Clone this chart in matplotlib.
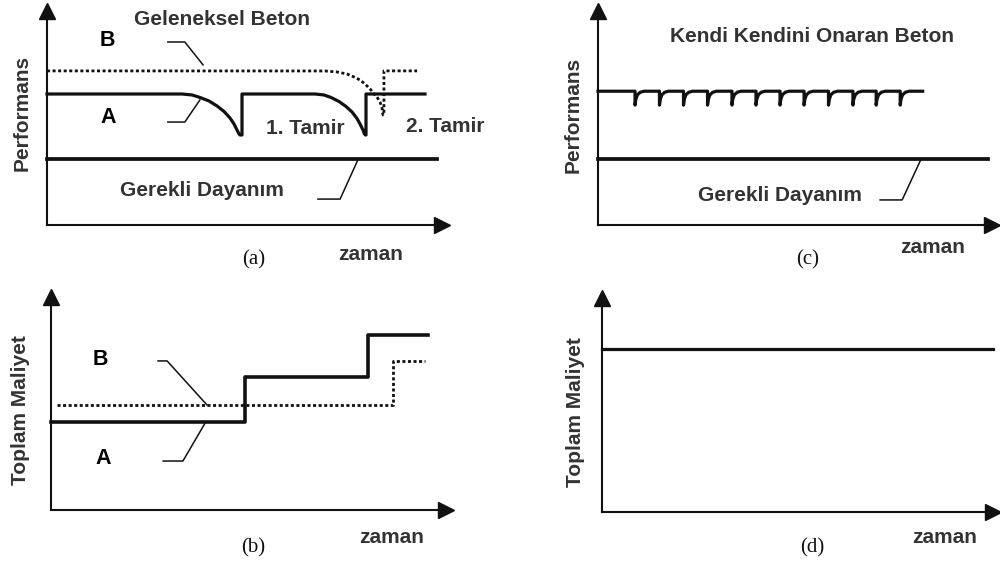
import numpy as np
import matplotlib
matplotlib.use('Agg')
import matplotlib.pyplot as plt

plt.rcParams['font.family'] = ['Liberation Sans', 'DejaVu Sans']

# (a) performance of conventional concrete: A repaired, B dotted
a_A_t = [0, 3.418, 3.671, 3.873, 4.101, 4.304, 4.481, 4.633, 4.734, 4.810, 4.861, 4.886, 4.937, 4.937,
         6.785, 7.013, 7.190, 7.392, 7.570, 7.722, 7.848, 7.924, 8.000, 8.038, 8.063, 8.076, 8.076, 9.57]
a_A_p = [6.12, 6.12, 6.075, 5.958, 5.794, 5.561, 5.304, 5.0, 4.72, 4.439, 4.252, 4.206, 4.206, 6.12,
         6.12, 6.075, 5.958, 5.771, 5.537, 5.280, 4.977, 4.72, 4.439, 4.252, 4.206, 4.206, 6.12, 6.12]
a_B_t = [0, 7.038, 7.342, 7.595, 7.772, 7.924, 8.051, 8.127, 8.203, 8.253, 8.354, 8.430, 8.481, 8.506,
         8.53, 8.53, 9.37]
a_B_p = [7.2, 7.196, 7.150, 7.056, 6.916, 6.776, 6.589, 6.449, 6.308, 6.168, 5.981, 5.748, 5.467, 5.140,
         5.14, 7.2, 7.2]
a_req_t = [0, 9.87]
a_req_p = [3.1, 3.1]

# (b) total cost
b_A_t = [0, 4.91, 4.91, 8.03, 8.03, 9.54]
b_A_c = [4.13, 4.13, 6.24, 6.24, 8.22, 8.22]
b_B_t = [0.15, 8.66, 8.66, 9.47]
b_B_c = [4.93, 4.93, 7.0, 7.0]

# (c) self-healing concrete
c_level = 6.25
c_end = 8.24
c_dips = [0.94, 1.56, 2.17, 2.78, 3.40, 4.01, 4.62, 5.23, 5.85, 6.47, 7.06, 7.67]
dip_dt = [0, 0, 0.02, 0.06, 0.13, 0.23]
dip_dp = [0, -0.65, -0.38, -0.17, -0.05, 0]
c_req_t = [0, 9.9]
c_req_p = [3.1, 3.1]

# (d) total cost of self-healing concrete
d_t = [0, 10]
d_c = [7.62, 7.62]

# leader lines (label -> curve)
lead_a_B = ([3.06, 3.49, 3.95], [8.55, 8.55, 7.48])
lead_a_A = ([3.06, 3.49, 3.87], [4.81, 4.81, 5.84])
lead_a_req = ([6.86, 7.42, 7.87], [1.21, 1.21, 3.04])
lead_b_B = ([2.71, 2.94, 3.95], [7.0, 7.0, 4.93])
lead_b_A = ([2.84, 3.34, 3.90], [2.3, 2.3, 4.08])
lead_c_req = ([7.16, 7.72, 8.19], [1.17, 1.17, 3.04])

ink = '#111111'
txt = '#333333'
lw_main = 2.3
dot_style = dict(color=ink, lw=2.0, linestyle=(0, (1.1, 0.9)), dash_capstyle='butt')

fig = plt.figure(figsize=(10, 5.65), dpi=100)
ax_a = fig.add_axes([0.047, 0.6018, 0.395, 0.3788])
ax_c = fig.add_axes([0.598, 0.6018, 0.394, 0.3788])
ax_b = fig.add_axes([0.051, 0.0973, 0.395, 0.377])
ax_d = fig.add_axes([0.602, 0.0938, 0.391, 0.3788])


def setup(ax):
    ax.set_xlim(0, 10)
    ax.set_ylim(0, 10)
    for s in ['top', 'right']:
        ax.spines[s].set_visible(False)
    for s in ['left', 'bottom']:
        ax.spines[s].set_linewidth(1.5)
        ax.spines[s].set_color(ink)
    ax.set_xticks([])
    ax.set_yticks([])
    ax.patch.set_alpha(0)
    ax.plot(1, 0, '>', color=ink, ms=11, transform=ax.get_yaxis_transform(), clip_on=False)
    ax.plot(0, 1, '^', color=ink, ms=11, transform=ax.get_xaxis_transform(), clip_on=False)


def lbl(ax, t, p, s, size=15, color=txt, **kw):
    ax.text(t, p, s, ha='center', va='center', fontsize=size, color=color,
            fontweight='bold', clip_on=False, **kw)


def cap(ax, t, p, s):
    ax.text(t, p, s, ha='center', va='center', fontsize=15, color=ink,
            family=['Liberation Serif', 'DejaVu Serif'], clip_on=False)


for ax in (ax_a, ax_b, ax_c, ax_d):
    setup(ax)

# panel (a)
ax_a.plot(a_A_t, a_A_p, color=ink, lw=lw_main, clip_on=False)
ax_a.plot(a_B_t, a_B_p, **dot_style, clip_on=False)
ax_a.plot(a_req_t, a_req_p, color=ink, lw=lw_main + 0.4, clip_on=False)
for lx, ly in (lead_a_B, lead_a_A, lead_a_req):
    ax_a.plot(lx, ly, color=ink, lw=1.1)
lbl(ax_a, 4.43, 9.58, 'Geleneksel Beton')
lbl(ax_a, 1.54, 8.6, 'B', size=15.5, color='black')
lbl(ax_a, 1.54, 5.0, 'A', size=15.5, color='black')
lbl(ax_a, 6.53, 4.53, '1. Tamir')
lbl(ax_a, 10.08, 4.58, '2. Tamir')
lbl(ax_a, 3.92, 1.59, 'Gerekli Dayanım')
lbl(ax_a, -0.63, 5.23, 'Performans', rotation=90)
lbl(ax_a, 8.18, -1.36, 'zaman')
cap(ax_a, 5.22, -1.64, '(a)')

# panel (b)
ax_b.plot(b_A_t, b_A_c, color=ink, lw=lw_main + 0.3, clip_on=False)
ax_b.plot(b_B_t, b_B_c, **dot_style, clip_on=False)
for lx, ly in (lead_b_B, lead_b_A):
    ax_b.plot(lx, ly, color=ink, lw=1.1)
lbl(ax_b, 1.24, 7.09, 'B', size=15.5, color='black')
lbl(ax_b, 1.32, 2.44, 'A', size=15.5, color='black')
lbl(ax_b, -0.78, 4.69, 'Toplam Maliyet', rotation=90)
lbl(ax_b, 8.63, -1.27, 'zaman')
cap(ax_b, 5.11, -1.78, '(b)')

# panel (c)
c_t, c_p = [0], [c_level]
for d in c_dips:
    c_t += [d + dt for dt in dip_dt]
    c_p += [c_level + dp for dp in dip_dp]
c_t.append(c_end)
c_p.append(c_level)
ax_c.plot(c_t, c_p, color=ink, lw=lw_main, clip_on=False)
ax_c.plot(c_req_t, c_req_p, color=ink, lw=lw_main + 0.4, clip_on=False)
ax_c.plot(*lead_c_req, color=ink, lw=1.1)
lbl(ax_c, 5.43, 8.79, 'Kendi Kendini Onaran Beton')
lbl(ax_c, -0.63, 5.14, 'Performans', rotation=90)
lbl(ax_c, 4.62, 1.40, 'Gerekli Dayanım')
lbl(ax_c, 8.5, -1.07, 'zaman')
cap(ax_c, 5.33, -1.64, '(c)')

# panel (d)
ax_d.plot(d_t, d_c, color=ink, lw=lw_main, clip_on=False)
lbl(ax_d, -0.69, 4.67, 'Toplam Maliyet', rotation=90)
lbl(ax_d, 8.75, -1.17, 'zaman')
cap(ax_d, 5.39, -1.68, '(d)')

fig.savefig('out.png', dpi=100, facecolor='white')
